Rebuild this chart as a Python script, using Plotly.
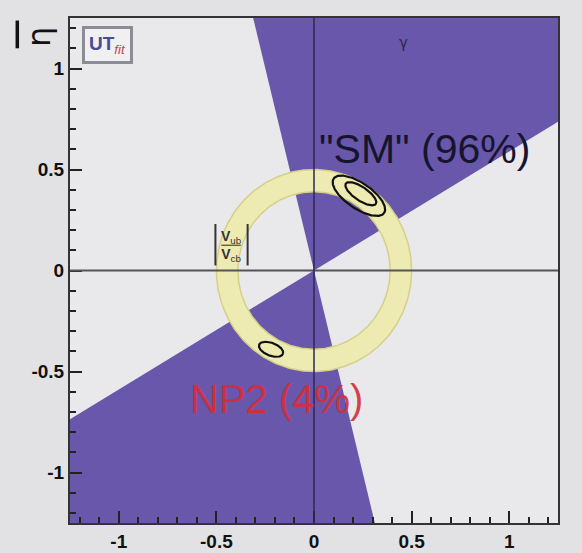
import numpy as np
import plotly.graph_objects as go

# ---- data ----
gamma_band_deg = [30.5, 104.0]          # allowed gamma wedge (and its mirror at +180)
vub_ring_radii = [0.39, 0.50]           # |Vub/Vcb| annulus inner/outer radius
# contours: (center_x, center_y, semi_major, semi_minor, tilt_deg)
sm_contours = [(0.23, 0.37, 0.155, 0.064, -33.0), (0.24, 0.38, 0.092, 0.034, -33.0)]
np2_contours = [(-0.22, -0.39, 0.065, 0.032, -20.0)]
axis_range = [-1.25, 1.25]
tick_vals = [-1, -0.5, 0, 0.5, 1]
tick_text = ["-1", "-0.5", "0", "0.5", "1"]
label_sm = '"SM" (96%)'
label_np2 = "NP2 (4%)"

PURPLE = "rgb(104,87,170)"
RING_FILL = "rgb(237,235,178)"
RING_EDGE = "rgb(212,208,136)"
BG = "rgb(226,226,229)"
PLOT_BG = "rgb(233,233,236)"

fig = go.Figure()

# gamma wedges
far = 3.0
for off in (0.0, 180.0):
    ang = np.radians(np.linspace(gamma_band_deg[0] + off, gamma_band_deg[1] + off, 60))
    xs = np.concatenate([[0.0], far * np.cos(ang), [0.0]])
    ys = np.concatenate([[0.0], far * np.sin(ang), [0.0]])
    fig.add_trace(go.Scatter(x=xs, y=ys, mode="lines", fill="toself",
                             fillcolor=PURPLE, line=dict(width=0, color=PURPLE),
                             hoverinfo="skip", showlegend=False))

# |Vub/Vcb| ring
t = np.radians(np.linspace(0, 360, 361))
r_in, r_out = vub_ring_radii
xs = np.concatenate([r_out * np.cos(t), r_in * np.cos(t[::-1])])
ys = np.concatenate([r_out * np.sin(t), r_in * np.sin(t[::-1])])
fig.add_trace(go.Scatter(x=xs, y=ys, mode="lines", fill="toself", fillcolor=RING_FILL,
                         line=dict(width=0, color=RING_FILL), hoverinfo="skip", showlegend=False))
for r in vub_ring_radii:
    fig.add_trace(go.Scatter(x=r * np.cos(t), y=r * np.sin(t), mode="lines",
                             line=dict(width=1.5, color=RING_EDGE), hoverinfo="skip", showlegend=False))

# probability contours
for cx, cy, a, b, tilt in sm_contours + np2_contours:
    th = np.radians(tilt)
    ex = cx + a * np.cos(t) * np.cos(th) - b * np.sin(t) * np.sin(th)
    ey = cy + a * np.cos(t) * np.sin(th) + b * np.sin(t) * np.cos(th)
    fig.add_trace(go.Scatter(x=ex, y=ey, mode="lines", line=dict(width=2.2, color="#111111"),
                             hoverinfo="skip", showlegend=False))

# axis lines through origin
fig.add_shape(type="line", xref="paper", yref="y", x0=0, x1=1, y0=0, y1=0,
              line=dict(color="#555555", width=2), layer="above")
fig.add_shape(type="line", xref="x", yref="paper", x0=0, x1=0, y0=0, y1=1,
              line=dict(color="#2a2a55", width=1.5), layer="above")

# |Vub/Vcb| label with bars and fraction line
fig.add_annotation(x=-0.423, y=0.12, xref="x", yref="y", showarrow=False,
                   text="<b>V</b><sub>ub</sub><br><b>V</b><sub>cb</sub>",
                   font=dict(family="Liberation Sans", size=14, color="#333333"))
for bx in (-0.505, -0.34):
    fig.add_shape(type="line", xref="x", yref="y", x0=bx, x1=bx, y0=0.025, y1=0.23,
                  line=dict(color="#333333", width=2), layer="above")
fig.add_shape(type="line", xref="x", yref="y", x0=-0.475, x1=-0.375, y0=0.125, y1=0.125,
              line=dict(color="#444444", width=1.2), layer="above")

# text labels
fig.add_annotation(x=0.566, y=0.6, xref="x", yref="y", showarrow=False, text=label_sm,
                   font=dict(family="Liberation Sans", size=41, color="#15152e"))
fig.add_annotation(x=-0.19, y=-0.635, xref="x", yref="y", showarrow=False, text=label_np2,
                   font=dict(family="Liberation Sans", size=40, color="rgba(214,45,60,0.92)"))
fig.add_annotation(x=0.46, y=1.125, xref="x", yref="y", showarrow=False, text="γ",
                   font=dict(family="DejaVu Sans", size=15, color="#2a2a4a"))

# UTfit logo
fig.add_annotation(x=0.076, y=0.946, xref="paper", yref="paper", xanchor="center", yanchor="middle",
                   showarrow=False,
                   text='<b><span style="color:#4a4a96">UT</span></b><i><sub><span style="color:#d04050">fit</span></sub></i>',
                   font=dict(family="Liberation Sans", size=19),
                   bgcolor="rgb(240,240,243)", bordercolor="rgb(140,140,150)", borderwidth=3, borderpad=4)

# y axis title (eta bar), rotated as in ROOT: eta glyph plus its bar
fig.add_annotation(x=-0.064, y=0.962, xref="paper", yref="paper", xanchor="center", yanchor="middle",
                   showarrow=False, text="η", textangle=-90,
                   font=dict(family="DejaVu Sans", size=32, color="#111111"))
fig.add_shape(type="line", xref="paper", yref="paper", x0=-0.108, x1=-0.108, y0=0.94, y1=0.995,
              line=dict(color="#111111", width=3.5))

axis_common = dict(range=axis_range, tickvals=tick_vals, ticktext=tick_text,
                   ticks="inside", ticklen=12, tickwidth=2, tickcolor="#222222",
                   minor=dict(ticks="inside", ticklen=6, dtick=0.1, tick0=0, tickwidth=1.5, tickcolor="#222222"),
                   showline=True, linecolor="#333333", linewidth=2, mirror=True,
                   showgrid=False, zeroline=False, automargin=False,
                   tickfont=dict(family="Liberation Sans", size=19, color="#111111", weight="bold"))

fig.update_layout(
    width=582, height=553,
    margin=dict(l=70, r=24, t=18, b=30),
    paper_bgcolor=BG, plot_bgcolor=PLOT_BG,
    xaxis=axis_common, yaxis=axis_common,
    showlegend=False, hovermode=False,
)

fig.write_html("out.html")
